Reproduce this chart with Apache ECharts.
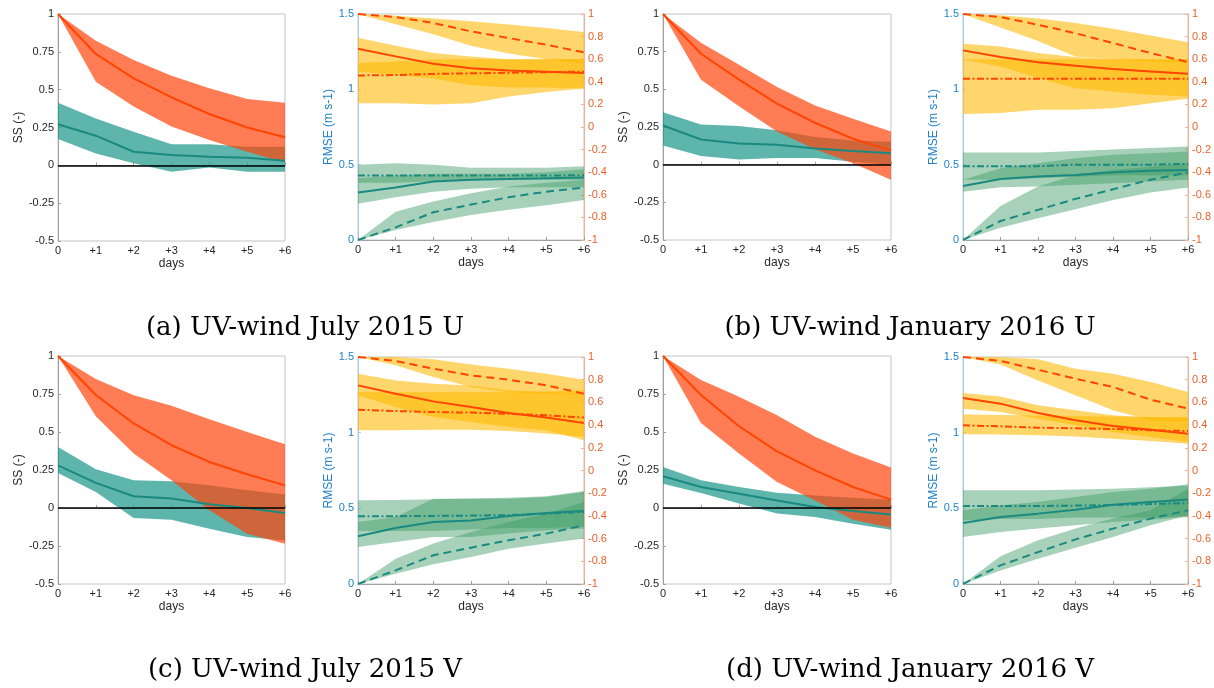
<!DOCTYPE html>
<html>
<head>
<meta charset="utf-8">
<script src="https://cdn.jsdelivr.net/npm/echarts@6/dist/echarts.min.js"></script>
<style>
  html, body { margin: 0; padding: 0; background: #fff; }
  #chart { width: 1214px; height: 688px; }
</style>
</head>
<body>
<div id="chart"></div>
<script>
// Lead times (days) shared by every panel
const days = [0, 1, 2, 3, 4, 5, 6];
const dayLabels = ['0', '+1', '+2', '+3', '+4', '+5', '+6'];
const captions = [
  '(a) UV-wind July 2015 U',
  '(b) UV-wind January 2016 U',
  '(c) UV-wind July 2015 V',
  '(d) UV-wind January 2016 V'
];

// ---- (a) July 2015, U ----
const ssA_red = [1, 0.736, 0.575, 0.449, 0.339, 0.25, 0.185];
const ssA_redHi = [1, 0.824, 0.696, 0.592, 0.509, 0.438, 0.414];
const ssA_redLo = [1, 0.553, 0.388, 0.256, 0.167, 0.09, 0.018];
const ssA_teal = [0.271, 0.196, 0.09, 0.068, 0.057, 0.05, 0.03];
const ssA_tealHi = [0.414, 0.31, 0.222, 0.139, 0.139, 0.123, 0.123];
const ssA_tealLo = [0.174, 0.079, 0.013, -0.042, -0.015, -0.042, -0.042];

const corA_solid = [0.693, 0.625, 0.56, 0.52, 0.5, 0.49, 0.477];
const corA_solidHi = [0.79, 0.72, 0.655, 0.625, 0.6, 0.6, 0.6];
const corA_solidLo = [0.49, 0.46, 0.43, 0.37, 0.35, 0.35, 0.34];
const corA_dash = [1, 0.973, 0.92, 0.846, 0.787, 0.728, 0.66];
const corA_dashHi = [1, 0.985, 0.96, 0.935, 0.906, 0.876, 0.84];
const corA_dashLo = [1, 0.91, 0.82, 0.72, 0.65, 0.6, 0.56];
const corA_dot = [0.456, 0.46, 0.47, 0.475, 0.48, 0.485, 0.49];
const corA_dotHi = [0.566, 0.58, 0.6, 0.6, 0.6, 0.6, 0.6];
const corA_dotLo = [0.21, 0.21, 0.2, 0.21, 0.27, 0.31, 0.34];

const rmseA_solid = [0.315, 0.348, 0.388, 0.4, 0.405, 0.41, 0.414];
const rmseA_solidHi = [0.41, 0.43, 0.44, 0.44, 0.44, 0.45, 0.47];
const rmseA_solidLo = [0.24, 0.284, 0.32, 0.34, 0.35, 0.35, 0.35];
const rmseA_dash = [0, 0.084, 0.184, 0.235, 0.284, 0.321, 0.348];
const rmseA_dashHi = [0, 0.188, 0.255, 0.31, 0.355, 0.38, 0.4];
const rmseA_dashLo = [0, 0.066, 0.12, 0.166, 0.2, 0.23, 0.266];
const rmseA_dot = [0.428, 0.428, 0.428, 0.428, 0.428, 0.428, 0.43];
const rmseA_dotHi = [0.5, 0.51, 0.5, 0.48, 0.48, 0.48, 0.49];
const rmseA_dotLo = [0.38, 0.38, 0.39, 0.4, 0.4, 0.4, 0.4];

// ---- (b) January 2016, U ----
const ssB_red = [1, 0.736, 0.564, 0.405, 0.278, 0.172, 0.095];
const ssB_redHi = [1, 0.81, 0.663, 0.515, 0.392, 0.304, 0.22];
const ssB_redLo = [1, 0.564, 0.388, 0.22, 0.103, 0.01, -0.1];
const ssB_teal = [0.26, 0.167, 0.141, 0.132, 0.108, 0.09, 0.075];
const ssB_tealHi = [0.348, 0.267, 0.256, 0.229, 0.183, 0.161, 0.152];
const ssB_tealLo = [0.128, 0.057, 0.035, 0.044, 0.044, 0.02, 0.0];

const corB_solid = [0.678, 0.619, 0.572, 0.542, 0.513, 0.492, 0.471];
const corB_solidHi = [0.737, 0.713, 0.654, 0.62, 0.6, 0.595, 0.595];
const corB_solidLo = [0.595, 0.536, 0.433, 0.344, 0.315, 0.285, 0.27];
const corB_dash = [1, 0.973, 0.905, 0.83, 0.743, 0.654, 0.575];
const corB_dashHi = [1, 0.99, 0.96, 0.92, 0.87, 0.81, 0.75];
const corB_dashLo = [1, 0.88, 0.76, 0.625, 0.6, 0.58, 0.566];
const corB_dot = [0.427, 0.427, 0.427, 0.427, 0.427, 0.427, 0.427];
const corB_dotHi = [0.6, 0.6, 0.6, 0.6, 0.6, 0.6, 0.6];
const corB_dotLo = [0.114, 0.123, 0.152, 0.152, 0.167, 0.21, 0.25];

const rmseB_solid = [0.359, 0.405, 0.421, 0.432, 0.45, 0.459, 0.465];
const rmseB_solidHi = [0.4, 0.476, 0.51, 0.543, 0.565, 0.576, 0.587];
const rmseB_solidLo = [0.321, 0.35, 0.355, 0.366, 0.377, 0.388, 0.4];
const rmseB_dash = [0, 0.126, 0.2, 0.273, 0.337, 0.4, 0.448];
const rmseB_dashHi = [0, 0.226, 0.355, 0.432, 0.465, 0.487, 0.51];
const rmseB_dashLo = [0, 0.082, 0.144, 0.204, 0.266, 0.315, 0.348];
const rmseB_dot = [0.49, 0.49, 0.49, 0.5, 0.5, 0.5, 0.505];
const rmseB_dotHi = [0.58, 0.58, 0.58, 0.59, 0.6, 0.61, 0.62];
const rmseB_dotLo = [0.4, 0.4, 0.41, 0.42, 0.43, 0.43, 0.43];

// ---- (c) July 2015, V ----
const ssC_red = [1, 0.743, 0.556, 0.413, 0.303, 0.222, 0.149];
const ssC_redHi = [1, 0.848, 0.742, 0.672, 0.584, 0.5, 0.42];
const ssC_redLo = [1, 0.604, 0.358, 0.182, -0.015, -0.169, -0.235];
const ssC_teal = [0.281, 0.165, 0.077, 0.062, 0.024, 0.0, -0.033];
const ssC_tealHi = [0.402, 0.255, 0.182, 0.176, 0.149, 0.116, 0.09];
const ssC_tealLo = [0.231, 0.105, -0.066, -0.077, -0.136, -0.191, -0.213];

const corC_solid = [0.75, 0.677, 0.609, 0.559, 0.507, 0.466, 0.419];
const corC_solidHi = [0.853, 0.794, 0.765, 0.75, 0.706, 0.692, 0.677];
const corC_solidLo = [0.662, 0.559, 0.471, 0.427, 0.383, 0.354, 0.266];
const corC_dash = [1, 0.965, 0.897, 0.838, 0.8, 0.75, 0.677];
const corC_dashHi = [1, 1, 0.98, 0.935, 0.897, 0.853, 0.8];
const corC_dashLo = [1, 0.927, 0.824, 0.736, 0.69, 0.677, 0.668];
const corC_dot = [0.536, 0.524, 0.515, 0.51, 0.5, 0.486, 0.466];
const corC_dotHi = [0.692, 0.69, 0.69, 0.69, 0.69, 0.695, 0.706];
const corC_dotLo = [0.354, 0.354, 0.36, 0.36, 0.348, 0.325, 0.295];

const rmseC_solid = [0.315, 0.37, 0.41, 0.42, 0.449, 0.469, 0.482];
const rmseC_solidHi = [0.41, 0.443, 0.564, 0.564, 0.564, 0.575, 0.608];
const rmseC_solidLo = [0.245, 0.278, 0.31, 0.31, 0.333, 0.355, 0.366];
const rmseC_dash = [0, 0.09, 0.19, 0.24, 0.289, 0.333, 0.388];
const rmseC_dashHi = [0, 0.167, 0.267, 0.344, 0.41, 0.465, 0.542];
const rmseC_dashLo = [0, 0.068, 0.13, 0.178, 0.233, 0.267, 0.3];
const rmseC_dot = [0.447, 0.448, 0.45, 0.452, 0.455, 0.465, 0.476];
const rmseC_dotHi = [0.553, 0.555, 0.56, 0.565, 0.57, 0.58, 0.615];
const rmseC_dotLo = [0.35, 0.35, 0.35, 0.36, 0.37, 0.37, 0.38];

// ---- (d) January 2016, V ----
const ssD_red = [1, 0.743, 0.538, 0.373, 0.248, 0.138, 0.055];
const ssD_redHi = [1, 0.842, 0.732, 0.611, 0.468, 0.358, 0.266];
const ssD_redLo = [1, 0.56, 0.358, 0.171, 0.05, -0.077, -0.13];
const ssD_teal = [0.209, 0.138, 0.094, 0.05, 0.007, -0.02, -0.042];
const ssD_tealHi = [0.27, 0.182, 0.138, 0.101, 0.083, 0.068, 0.055];
const ssD_tealLo = [0.16, 0.099, 0.029, -0.037, -0.059, -0.103, -0.143];

const corD_solid = [0.639, 0.589, 0.507, 0.442, 0.392, 0.36, 0.324];
const corD_solidHi = [0.683, 0.653, 0.574, 0.53, 0.486, 0.466, 0.457];
const corD_solidLo = [0.545, 0.515, 0.457, 0.398, 0.339, 0.295, 0.251];
const corD_dash = [1, 0.965, 0.888, 0.809, 0.736, 0.624, 0.545];
const corD_dashHi = [1, 1, 0.98, 0.897, 0.853, 0.78, 0.692];
const corD_dashLo = [1, 0.935, 0.794, 0.662, 0.53, 0.442, 0.427];
const corD_dot = [0.398, 0.389, 0.377, 0.372, 0.366, 0.354, 0.348];
const corD_dotHi = [0.495, 0.49, 0.485, 0.48, 0.475, 0.472, 0.471];
const corD_dotLo = [0.319, 0.317, 0.31, 0.3, 0.28, 0.26, 0.236];

const rmseD_solid = [0.403, 0.443, 0.465, 0.491, 0.524, 0.542, 0.559];
const rmseD_solidHi = [0.487, 0.52, 0.542, 0.575, 0.608, 0.63, 0.659];
const rmseD_solidLo = [0.31, 0.344, 0.366, 0.388, 0.41, 0.425, 0.443];
const rmseD_dash = [0, 0.123, 0.211, 0.295, 0.366, 0.432, 0.487];
const rmseD_dashHi = [0, 0.183, 0.289, 0.366, 0.432, 0.487, 0.63];
const rmseD_dashLo = [0, 0.09, 0.167, 0.24, 0.31, 0.388, 0.454];
const rmseD_dot = [0.515, 0.515, 0.515, 0.518, 0.522, 0.528, 0.535];
const rmseD_dotHi = [0.62, 0.62, 0.62, 0.625, 0.63, 0.64, 0.65];
const rmseD_dotLo = [0.42, 0.43, 0.43, 0.44, 0.44, 0.44, 0.45];

// ---- styling ----
const FONT = 'Liberation Sans';
const RED = '#ff4500';
const TEAL = '#1a8a80';
const RED_FILL = 'rgba(255,69,12,0.7)';
const TEAL_FILL = 'rgba(26,149,135,0.7)';
const YELLOW_FILL = 'rgba(255,185,0,0.58)';
const GREEN_FILL = 'rgba(60,155,100,0.45)';
const AXIS_GRAY = '#a0a0a0';
const BLUE = '#1f80c8';
const ORANGE = '#e8622c';
const DASH = [8, 5];
const DASHDOT = [7, 2.5, 2, 2.5];

// Panel boxes: [left, top, width, height]
const ssBoxes = [[58, 14, 227, 227], [663, 14, 228, 226], [58, 356, 227, 228], [663, 356, 228, 228]];
const skBoxes = [[358, 14, 226, 226], [963, 14, 228, 226], [358, 357, 226, 227], [963, 357, 228, 227]];
const captionPos = [[305, 328], [910, 328], [305, 670], [910, 670]];

const ssPanels = [
  { red: ssA_red, redLo: ssA_redLo, redHi: ssA_redHi, teal: ssA_teal, tealLo: ssA_tealLo, tealHi: ssA_tealHi },
  { red: ssB_red, redLo: ssB_redLo, redHi: ssB_redHi, teal: ssB_teal, tealLo: ssB_tealLo, tealHi: ssB_tealHi },
  { red: ssC_red, redLo: ssC_redLo, redHi: ssC_redHi, teal: ssC_teal, tealLo: ssC_tealLo, tealHi: ssC_tealHi },
  { red: ssD_red, redLo: ssD_redLo, redHi: ssD_redHi, teal: ssD_teal, tealLo: ssD_tealLo, tealHi: ssD_tealHi }
];
const skPanels = [
  { cor: [[corA_solid, corA_solidLo, corA_solidHi], [corA_dash, corA_dashLo, corA_dashHi], [corA_dot, corA_dotLo, corA_dotHi]],
    rmse: [[rmseA_solid, rmseA_solidLo, rmseA_solidHi], [rmseA_dash, rmseA_dashLo, rmseA_dashHi], [rmseA_dot, rmseA_dotLo, rmseA_dotHi]] },
  { cor: [[corB_solid, corB_solidLo, corB_solidHi], [corB_dash, corB_dashLo, corB_dashHi], [corB_dot, corB_dotLo, corB_dotHi]],
    rmse: [[rmseB_solid, rmseB_solidLo, rmseB_solidHi], [rmseB_dash, rmseB_dashLo, rmseB_dashHi], [rmseB_dot, rmseB_dotLo, rmseB_dotHi]] },
  { cor: [[corC_solid, corC_solidLo, corC_solidHi], [corC_dash, corC_dashLo, corC_dashHi], [corC_dot, corC_dotLo, corC_dotHi]],
    rmse: [[rmseC_solid, rmseC_solidLo, rmseC_solidHi], [rmseC_dash, rmseC_dashLo, rmseC_dashHi], [rmseC_dot, rmseC_dotLo, rmseC_dotHi]] },
  { cor: [[corD_solid, corD_solidLo, corD_solidHi], [corD_dash, corD_dashLo, corD_dashHi], [corD_dot, corD_dotLo, corD_dotHi]],
    rmse: [[rmseD_solid, rmseD_solidLo, rmseD_solidHi], [rmseD_dash, rmseD_dashLo, rmseD_dashHi], [rmseD_dot, rmseD_dotLo, rmseD_dotHi]] }
];
const lineTypes = ['solid', DASH, DASHDOT];

const grids = [], xAxes = [], yAxes = [], series = [];

function addGrid(box) {
  grids.push({ left: box[0], top: box[1], width: box[2], height: box[3],
    show: true, borderColor: '#c4c4c4', borderWidth: 1, backgroundColor: 'transparent' });
  return grids.length - 1;
}

function addXAxis(g) {
  xAxes.push({
    type: 'value', gridIndex: g, min: 0, max: 6, interval: 1,
    name: 'days', nameLocation: 'middle', nameGap: 17,
    nameTextStyle: { fontFamily: FONT, fontSize: 12, color: '#262626' },
    axisLine: { lineStyle: { color: AXIS_GRAY, width: 1 } },
    axisTick: { inside: true, length: 3, lineStyle: { color: AXIS_GRAY } },
    axisLabel: { fontFamily: FONT, fontSize: 11, color: '#262626', margin: 4,
      formatter: v => dayLabels[days.indexOf(v)] },
    splitLine: { show: false }
  });
  return xAxes.length - 1;
}

function addYAxis(cfg) {
  yAxes.push(Object.assign({
    type: 'value', splitLine: { show: false },
    axisTick: { inside: true, length: 3 },
    nameLocation: 'middle'
  }, cfg));
  return yAxes.length - 1;
}

function band(xi, yi, lo, hi, fill) {
  return {
    type: 'custom', xAxisIndex: xi, yAxisIndex: yi, silent: true, z: 2,
    animation: false, clip: true,
    data: days.map((d, i) => [d, lo[i], hi[i]]),
    encode: { x: 0, y: [1, 2] },
    renderItem(params, api) {
      if (params.dataIndex !== 0) return null;
      const top = days.map((d, i) => api.coord([d, hi[i]]));
      const bot = days.map((d, i) => api.coord([d, lo[i]])).reverse();
      return { type: 'polygon', shape: { points: top.concat(bot) }, style: { fill: fill } };
    }
  };
}

function line(xi, yi, vals, color, type, extra) {
  return Object.assign({
    type: 'line', xAxisIndex: xi, yAxisIndex: yi, silent: true, z: 4,
    animation: false, symbol: 'none', showSymbol: false,
    data: days.map((d, i) => [d, vals[i]]),
    lineStyle: { color: color, width: 2, type: type, cap: 'butt' }
  }, extra || {});
}

// Skill-score panels
ssPanels.forEach((p, k) => {
  const g = addGrid(ssBoxes[k]);
  const xi = addXAxis(g);
  const yi = addYAxis({
    gridIndex: g, min: -0.5, max: 1, interval: 0.25,
    name: 'SS (-)', nameGap: 33,
    nameTextStyle: { fontFamily: FONT, fontSize: 12, color: '#262626' },
    axisLine: { show: true, lineStyle: { color: AXIS_GRAY } },
    axisTick: { inside: true, length: 3, lineStyle: { color: AXIS_GRAY } },
    axisLabel: { fontFamily: FONT, fontSize: 11, color: '#262626', margin: 4 }
  });
  series.push(band(xi, yi, p.tealLo, p.tealHi, TEAL_FILL));
  series.push(band(xi, yi, p.redLo, p.redHi, RED_FILL));
  series.push(line(xi, yi, p.teal, TEAL, 'solid', {
    markLine: { silent: true, symbol: 'none', animation: false,
      label: { show: false },
      lineStyle: { color: '#000', width: 1.5, type: 'solid' },
      data: [{ yAxis: 0 }] }
  }));
  series.push(line(xi, yi, p.red, RED, 'solid'));
});

// RMSE / correlation panels
skPanels.forEach((p, k) => {
  const g = addGrid(skBoxes[k]);
  const xi = addXAxis(g);
  const yl = addYAxis({
    gridIndex: g, position: 'left', min: 0, max: 1.5, interval: 0.5,
    name: 'RMSE (m s-1)', nameGap: 22,
    nameTextStyle: { fontFamily: FONT, fontSize: 12, color: BLUE },
    axisLine: { show: true, lineStyle: { color: '#a6cfee' } },
    axisTick: { inside: true, length: 3, lineStyle: { color: '#a6cfee' } },
    axisLabel: { fontFamily: FONT, fontSize: 11, color: BLUE, margin: 4 }
  });
  const yr = addYAxis({
    gridIndex: g, position: 'right', min: -1, max: 1, interval: 0.2,
    axisLine: { show: true, lineStyle: { color: '#f2b193' } },
    axisTick: { inside: true, length: 3, lineStyle: { color: '#f2b193' } },
    axisLabel: { fontFamily: FONT, fontSize: 11, color: ORANGE, margin: 4 }
  });
  p.cor.forEach(s => series.push(band(xi, yr, s[1], s[2], YELLOW_FILL)));
  p.rmse.forEach(s => series.push(band(xi, yl, s[1], s[2], GREEN_FILL)));
  p.rmse.forEach((s, j) => series.push(line(xi, yl, s[0], TEAL, lineTypes[j])));
  p.cor.forEach((s, j) => series.push(line(xi, yr, s[0], RED, lineTypes[j])));
});

const chart = echarts.init(document.getElementById('chart'), null, { renderer: 'canvas' });
chart.setOption({
  animation: false,
  backgroundColor: '#ffffff',
  grid: grids,
  xAxis: xAxes,
  yAxis: yAxes,
  series: series,
  graphic: captions.map((t, i) => ({
    type: 'text', x: captionPos[i][0], y: captionPos[i][1], silent: true,
    style: { text: t, fontFamily: 'DejaVu Serif', fontSize: 26, fill: '#000',
      align: 'center', verticalAlign: 'middle' }
  }))
});
</script>
</body>
</html>
